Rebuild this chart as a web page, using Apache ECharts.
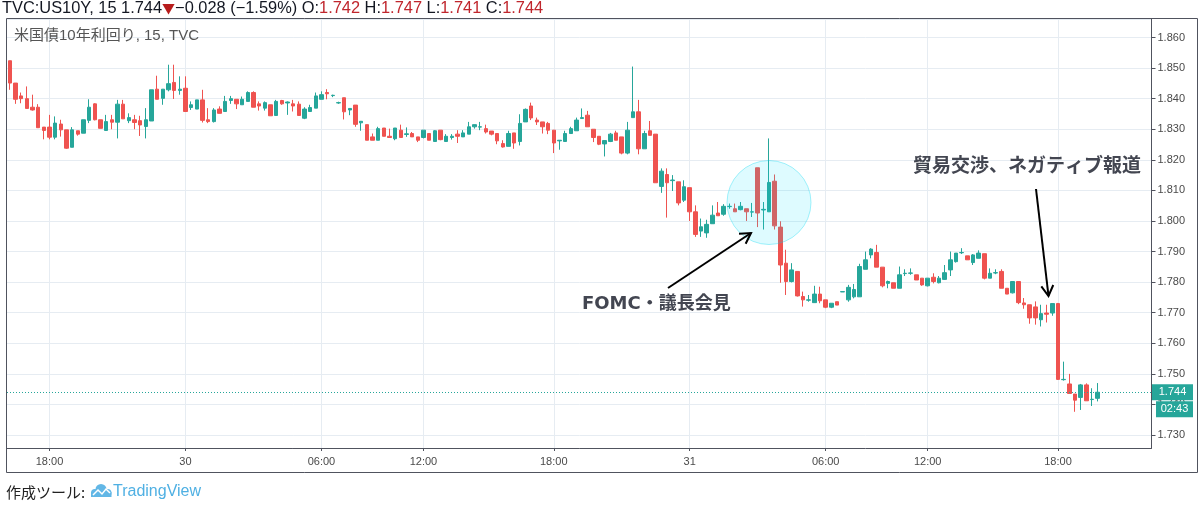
<!DOCTYPE html>
<html><head><meta charset="utf-8">
<script src="https://cdn.jsdelivr.net/npm/echarts@6/dist/echarts.min.js"></script>
<style>html,body{margin:0;padding:0;background:#fff}#c{width:1200px;height:508px}</style>
</head><body><div id="c"></div><script>
// ---- data (15-minute candles) ----
const opens = [
1.8524,1.8451,1.8409,1.8400,1.8372,1.8372,1.8307,1.8307,1.8274,1.8317,
1.8298,1.8241,1.8295,1.8287,1.8329,1.8383,1.8331,1.8296,1.8331,1.8323,
1.8382,1.8328,1.8331,1.8328,1.8309,1.8327,1.8431,1.8401,1.8429,1.8453,
1.8427,1.8434,1.8371,1.8366,1.8396,1.8331,1.8325,1.8366,1.8358,1.8394,
1.8398,1.8380,1.8391,1.8420,1.8383,1.8369,1.8380,1.8345,1.8394,1.8386,
1.8383,1.8382,1.8336,1.8358,1.8369,1.8398,1.8420,1.8410,1.8386,1.8403,
1.8363,1.8379,1.8321,1.8315,1.8275,1.8264,1.8304,1.8277,1.8269,1.8297,
1.8283,1.8286,1.8275,1.8273,1.8286,1.8260,1.8297,1.8260,1.8273,1.8284,
1.8275,1.8284,1.8308,1.8307,1.8302,1.8294,1.8286,1.8253,1.8244,1.8288,
1.8260,1.8324,1.8376,1.8330,1.8324,1.8319,1.8297,1.8262,1.8260,1.8286,
1.8295,1.8335,1.8346,1.8300,1.8277,1.8252,1.8260,1.8288,1.8275,1.8222,
1.8338,1.8357,1.8236,1.8295,1.8284,1.8113,1.8152,1.8132,1.8128,1.8068,
1.8109,1.8030,1.7967,1.7961,1.7991,1.8026,1.8022,1.8047,1.8040,1.8037,
1.8040,1.8029,1.8174,1.8036,1.8030,1.8130,1.7980,1.7862,1.7802,1.7835,
1.7753,1.7741,1.7733,1.7761,1.7742,1.7718,1.7736,1.7768,1.7742,1.7752,
1.7752,1.7842,1.7889,1.7897,1.7849,1.7796,1.7798,1.7780,1.7828,1.7829,
1.7824,1.7813,1.7788,1.7816,1.7798,1.7809,1.7840,1.7867,1.7896,1.7886,
1.7864,1.7878,1.7893,1.7813,1.7830,1.7835,1.7780,1.7765,1.7802,1.7732,
1.7726,1.7719,1.7677,1.7699,1.7699,1.7730,1.7481,1.7467,1.7434,1.7423,
1.7464,1.7416,1.7420];
const closes = [
1.8451,1.8398,1.8400,1.8368,1.8363,1.8305,1.8296,1.8274,1.8320,1.8298,
1.8238,1.8298,1.8284,1.8331,1.8372,1.8331,1.8303,1.8325,1.8323,1.8382,
1.8334,1.8338,1.8322,1.8314,1.8331,1.8429,1.8398,1.8431,1.8449,1.8427,
1.8431,1.8358,1.8380,1.8396,1.8329,1.8325,1.8363,1.8352,1.8391,1.8400,
1.8383,1.8398,1.8420,1.8372,1.8376,1.8387,1.8344,1.8391,1.8383,1.8389,
1.8376,1.8345,1.8366,1.8371,1.8409,1.8413,1.8416,1.8411,1.8387,1.8357,
1.8368,1.8316,1.8326,1.8264,1.8264,1.8302,1.8277,1.8273,1.8304,1.8273,
1.8285,1.8275,1.8264,1.8297,1.8264,1.8295,1.8266,1.8277,1.8277,1.8277,
1.8288,1.8308,1.8315,1.8308,1.8291,1.8284,1.8262,1.8242,1.8286,1.8255,
1.8319,1.8365,1.8337,1.8324,1.8308,1.8297,1.8255,1.8264,1.8286,1.8302,
1.8330,1.8338,1.8308,1.8273,1.8251,1.8263,1.8284,1.8264,1.8222,1.8297,
1.8357,1.8236,1.8286,1.8280,1.8125,1.8163,1.8125,1.8134,1.8059,1.8112,
1.8030,1.7956,1.7981,1.7989,1.8019,1.8017,1.8048,1.8048,1.8030,1.8048,
1.8030,1.8030,1.8026,1.8038,1.8126,1.7984,1.7856,1.7802,1.7840,1.7755,
1.7742,1.7742,1.7761,1.7739,1.7718,1.7731,1.7725,1.7769,1.7783,1.7776,
1.7851,1.7873,1.7908,1.7849,1.7788,1.7802,1.7780,1.7824,1.7829,1.7830,
1.7807,1.7791,1.7813,1.7802,1.7813,1.7831,1.7873,1.7895,1.7897,1.7873,
1.7889,1.7895,1.7813,1.7829,1.7831,1.7780,1.7761,1.7802,1.7733,1.7726,
1.7683,1.7683,1.7697,1.7695,1.7730,1.7482,1.7482,1.7436,1.7414,1.7464,
1.7412,1.7417,1.7440];
const lows = [
1.8429,1.8383,1.8385,1.8368,1.8361,1.8305,1.8267,1.8267,1.8267,1.8276,
1.8236,1.8241,1.8279,1.8287,1.8320,1.8329,1.8303,1.8296,1.8300,1.8270,
1.8334,1.8320,1.8300,1.8278,1.8270,1.8327,1.8398,1.8380,1.8424,1.8399,
1.8413,1.8358,1.8363,1.8366,1.8322,1.8320,1.8322,1.8352,1.8358,1.8383,
1.8366,1.8380,1.8391,1.8372,1.8361,1.8361,1.8344,1.8344,1.8380,1.8347,
1.8358,1.8345,1.8333,1.8358,1.8369,1.8398,1.8398,1.8405,1.8383,1.8332,
1.8346,1.8308,1.8295,1.8264,1.8264,1.8264,1.8277,1.8273,1.8264,1.8273,
1.8275,1.8275,1.8258,1.8270,1.8264,1.8260,1.8264,1.8260,1.8266,1.8255,
1.8275,1.8284,1.8302,1.8297,1.8286,1.8280,1.8251,1.8240,1.8244,1.8236,
1.8247,1.8324,1.8330,1.8314,1.8286,1.8284,1.8222,1.8233,1.8260,1.8286,
1.8295,1.8335,1.8308,1.8258,1.8248,1.8211,1.8258,1.8264,1.8218,1.8218,
1.8338,1.8218,1.8236,1.8280,1.8125,1.8092,1.8011,1.8098,1.8051,1.8062,
1.8000,1.7948,1.7948,1.7945,1.7991,1.8017,1.8017,1.8040,1.8030,1.8035,
1.8000,1.8013,1.7980,1.7972,1.8030,1.7972,1.7798,1.7758,1.7799,1.7753,
1.7720,1.7736,1.7733,1.7731,1.7715,1.7715,1.7725,1.7768,1.7736,1.7747,
1.7752,1.7842,1.7878,1.7849,1.7783,1.7780,1.7780,1.7780,1.7820,1.7824,
1.7807,1.7788,1.7786,1.7796,1.7796,1.7807,1.7820,1.7864,1.7892,1.7873,
1.7856,1.7878,1.7809,1.7813,1.7826,1.7780,1.7761,1.7763,1.7728,1.7713,
1.7664,1.7661,1.7655,1.7668,1.7690,1.7480,1.7478,1.7436,1.7376,1.7382,
1.7412,1.7395,1.7410];
const highs = [
1.8524,1.8451,1.8420,1.8440,1.8413,1.8382,1.8307,1.8347,1.8342,1.8331,
1.8298,1.8307,1.8295,1.8331,1.8398,1.8385,1.8331,1.8347,1.8347,1.8396,
1.8396,1.8352,1.8347,1.8344,1.8369,1.8429,1.8475,1.8431,1.8511,1.8511,
1.8473,1.8473,1.8391,1.8396,1.8429,1.8369,1.8369,1.8375,1.8409,1.8409,
1.8398,1.8407,1.8424,1.8424,1.8391,1.8391,1.8380,1.8396,1.8396,1.8391,
1.8396,1.8391,1.8372,1.8380,1.8420,1.8424,1.8431,1.8413,1.8390,1.8403,
1.8368,1.8379,1.8326,1.8315,1.8286,1.8308,1.8304,1.8302,1.8304,1.8315,
1.8306,1.8291,1.8275,1.8297,1.8286,1.8297,1.8297,1.8284,1.8284,1.8297,
1.8297,1.8324,1.8315,1.8324,1.8315,1.8294,1.8286,1.8264,1.8295,1.8288,
1.8349,1.8368,1.8387,1.8338,1.8324,1.8324,1.8297,1.8264,1.8295,1.8308,
1.8338,1.8368,1.8360,1.8300,1.8277,1.8263,1.8288,1.8295,1.8275,1.8324,
1.8505,1.8396,1.8295,1.8327,1.8284,1.8172,1.8172,1.8150,1.8128,1.8133,
1.8109,1.8051,1.8008,1.8004,1.8051,1.8062,1.8055,1.8057,1.8057,1.8062,
1.8040,1.8059,1.8174,1.8062,1.8270,1.8152,1.7999,1.7906,1.7862,1.7835,
1.7769,1.7758,1.7788,1.7785,1.7742,1.7731,1.7736,1.7769,1.7791,1.7794,
1.7860,1.7900,1.7911,1.7922,1.7849,1.7805,1.7798,1.7851,1.7842,1.7845,
1.7824,1.7813,1.7813,1.7829,1.7820,1.7856,1.7900,1.7895,1.7911,1.7886,
1.7892,1.7904,1.7893,1.7845,1.7842,1.7842,1.7780,1.7802,1.7802,1.7748,
1.7726,1.7737,1.7726,1.7726,1.7730,1.7732,1.7540,1.7500,1.7434,1.7467,
1.7469,1.7453,1.7470];
const tickIndex  = [7, 31, 55, 73, 96, 120, 144, 162, 185];
const tickLabels = ['18:00','30','06:00','12:00','18:00','31','06:00','12:00','18:00'];
const slotCount = 202;          // candle slots on the time axis (incl. empty right margin)
const lastPrice = 1.744;
const countdown = '02:43';
const yMin = 1.72576, yMax = 1.86605;

// ---- build ----
const categories = [];
for (let i = 0; i < slotCount; i++) categories.push(String(i));
const labelMap = {};
tickIndex.forEach((k, j) => { labelMap[k] = tickLabels[j]; });
const isTick = (i) => labelMap[i] !== undefined;
const candles = opens.map((o, i) => [o, closes[i], lows[i], highs[i]]);

const F = '"Liberation Sans", "Noto Sans CJK JP", sans-serif';
const FJ = '"Noto Sans CJK JP", sans-serif';
const FB = '"DejaVu Sans", "Noto Sans CJK JP", sans-serif';
const UP = '#26a69a', DOWN = '#ef5350';
const FRAME = '#50535e', GRID = '#e6ecf2', LBL = '#4a4a4a';

const chart = echarts.init(document.getElementById('c'), null, {renderer: 'canvas'});
chart.setOption({
  animation: false,
  backgroundColor: '#ffffff',
  grid: {left: 7, right: 48.5, top: 19, bottom: 60, containLabel: false, outerBoundsMode: 'none'},
  xAxis: {
    type: 'category', data: categories, boundaryGap: true,
    axisLine: {show: true, lineStyle: {color: FRAME, width: 1}},
    axisTick: {show: true, alignWithLabel: true, interval: (i) => isTick(i), length: 3, lineStyle: {color: FRAME}},
    axisLabel: {interval: (i) => isTick(i), formatter: (v, i) => labelMap[i] || '', color: LBL, fontSize: 11, fontFamily: F, margin: 8},
    splitLine: {show: true, alignWithLabel: true, interval: (i) => isTick(i), lineStyle: {color: GRID, width: 1}}
  },
  yAxis: {
    type: 'value', position: 'right', min: yMin, max: yMax, scale: true,
    splitNumber: 14, minInterval: 0.01, maxInterval: 0.01,
    axisLine: {show: true, lineStyle: {color: FRAME, width: 1}},
    axisTick: {show: true, length: 4, lineStyle: {color: FRAME}},
    axisLabel: {showMinLabel: false, showMaxLabel: false, formatter: (v) => v.toFixed(3), color: LBL, fontSize: 11, fontFamily: F, margin: 6},
    splitLine: {show: true, lineStyle: {color: GRID, width: 1}}
  },
  series: [{
    type: 'candlestick', data: candles, barWidth: 4,
    itemStyle: {color: UP, color0: DOWN, borderColor: UP, borderColor0: DOWN, borderWidth: 1},
    markLine: {
      silent: true, precision: 4, symbol: ['none', 'none'], label: {show: false},
      lineStyle: {color: UP, type: [1, 2], width: 1},
      data: [{yAxis: lastPrice}]
    }
  }]
});

// ---- annotations / chrome ----
function arrow(x1, y1, x2, y2, head) {
  const a = Math.atan2(y2 - y1, x2 - x1), s = Math.PI / 6;
  return [
    {type: 'polyline', z: 100, shape: {points: [[x1, y1], [x2, y2]]}, style: {stroke: '#000', lineWidth: 2, fill: null}},
    {type: 'polyline', z: 100, shape: {points: [
      [x2 - head * Math.cos(a - s), y2 - head * Math.sin(a - s)], [x2, y2],
      [x2 - head * Math.cos(a + s), y2 - head * Math.sin(a + s)]]},
      style: {stroke: '#000', lineWidth: 2, fill: null}}
  ];
}
const yP = chart.convertToPixel({yAxisIndex: 0}, lastPrice);
const R = '#c0262d', K = '#131722';
const LOGO = '#62b7e6';
const g = [
  {type: 'text', z: 100, x: 2, y: 8, style: {
    text: '{k|TVC:US10Y, 15 1.744}{d|▼}{k|−0.028 (−1.59%) O:}{r|1.742}{k| H:}{r|1.747}{k| L:}{r|1.741}{k| C:}{r|1.744}',
    verticalAlign: 'middle', font: '16.4px ' + F,
    rich: {k: {fill: K, fontSize: 16.4, fontFamily: F}, r: {fill: R, fontSize: 16.4, fontFamily: F}, d: {fill: '#b71c1c', fontSize: 13, fontFamily: FJ}}}},
  {type: 'text', z: 100, x: 14, y: 36, style: {text: '米国債10年利回り, 15, TVC', fill: '#555', font: '15px ' + F, verticalAlign: 'middle'}},
  {type: 'rect', z: 100, shape: {x: 6.5, y: 18.5, width: 1191, height: 454}, style: {fill: null, stroke: FRAME, lineWidth: 1}},
  {type: 'circle', z: 100, shape: {cx: 769, cy: 202.5, r: 42}, style: {fill: 'rgba(0,225,255,0.13)', stroke: 'rgba(0,215,240,0.35)', lineWidth: 1}},
  ...arrow(668, 288, 751, 233, 12),
  ...arrow(1036, 189, 1048.5, 296, 12),
  {type: 'text', z: 100, x: 582, y: 304, style: {text: 'FOMC・議長会見', fill: '#434651', font: 'bold 18px ' + FB, verticalAlign: 'middle'}},
  {type: 'text', z: 100, x: 913, y: 167, style: {text: '貿易交渉、ネガティブ報道', fill: '#434651', font: 'bold 19px ' + FB, verticalAlign: 'middle'}},
  {type: 'rect', z: 100, shape: {x: 1152, y: yP - 8, width: 41, height: 16}, style: {fill: UP}},
  {type: 'text', z: 101, x: 1172.5, y: yP, style: {text: lastPrice.toFixed(3), fill: '#fff', font: '11px ' + F, align: 'center', verticalAlign: 'middle'}},
  {type: 'rect', z: 100, shape: {x: 1156, y: yP + 9, width: 37, height: 16}, style: {fill: UP}},
  {type: 'text', z: 101, x: 1174.5, y: yP + 17, style: {text: countdown, fill: '#fff', font: '11px ' + F, align: 'center', verticalAlign: 'middle'}},
  {type: 'text', z: 100, x: 6, y: 492, style: {text: '作成ツール:', fill: '#222', font: '15px ' + FJ, verticalAlign: 'middle'}},
  {type: 'circle', z: 100, shape: {cx: 95, cy: 493, r: 4}, style: {fill: LOGO}},
  {type: 'circle', z: 100, shape: {cx: 101, cy: 489.5, r: 5.5}, style: {fill: LOGO}},
  {type: 'circle', z: 100, shape: {cx: 107.5, cy: 493, r: 4}, style: {fill: LOGO}},
  {type: 'rect', z: 100, shape: {x: 91, y: 492, width: 20.5, height: 5}, style: {fill: LOGO}},
  {type: 'polyline', z: 101, shape: {points: [[93, 495], [98, 490], [102, 494], [106, 489], [110, 493]]}, style: {stroke: '#fff', lineWidth: 1.5, fill: null}},
  {type: 'text', z: 100, x: 113, y: 492, style: {text: 'TradingView', fill: '#4fb0e3', font: '16px ' + F, verticalAlign: 'middle'}}
];
chart.setOption({graphic: g});
</script></body></html>
